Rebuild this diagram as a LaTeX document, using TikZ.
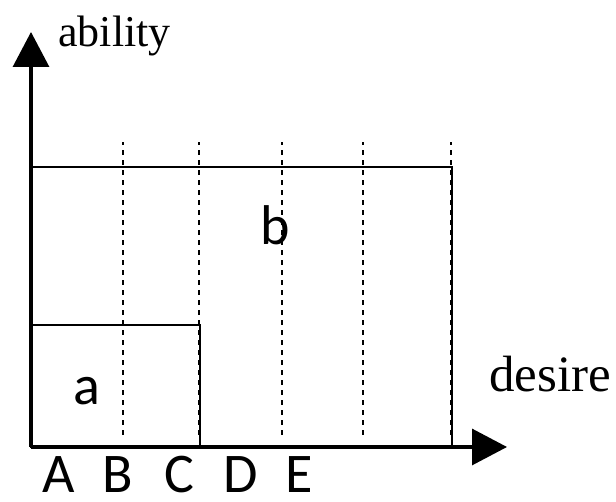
\documentclass[tikz,border=0pt]{standalone}
\usepackage{fontspec}
\setmainfont{Liberation Serif}
\newfontfamily\labelfont{Carlito}
\usepackage{tikz}
\usetikzlibrary{arrows.meta}

\tikzset{
  axisline/.style={line width=1.6pt, -{Triangle[length=17.5pt,width=18pt]}},
  boxline/.style={line width=1.2pt},
  gridline/.style={line width=1.1pt, dash pattern=on 2.5pt off 2.5pt},
  letter/.style={font=\labelfont\fontsize{28}{28}\selectfont, anchor=base, inner sep=0pt},
  axislabel/.style={anchor=base west, inner sep=0pt}
}

\begin{document}
\begin{tikzpicture}[x=0.5pt, y=0.5pt]
        \useasboundingbox (0,0) rectangle (616,502);
        \coordinate (O) at (31,55);
        \coordinate (ytip) at (31,470);
        \coordinate (xtip) at (507,55);
        % dotted divisions
        \foreach \px in {123,199,282,363,451}
          \draw[gridline] (\px,67) -- (\px,360);
        % regions
        \draw[boxline] (O) rectangle (452,335);
        \draw[boxline] (O) rectangle (200,177);
        \node[letter] (lab-a) at (87,97) {a};
        \node[letter] (lab-b) at (275,257) {b};
        % axes
        \draw[axisline] (O) -- (ytip);
        \draw[axisline] (O) -- (xtip);
        \node[axislabel, font=\fontsize{22}{22}\selectfont] (ability) at (58,455) {ability};
        \node[axislabel, font=\fontsize{25.5}{25.5}\selectfont] (desire) at (489,110) {desire};
        % levels
        \foreach \name/\px in {A/59,B/118,C/179,D/241,E/299}
          \node[letter] (lv-\name) at (\px,9) {\name};
      \end{tikzpicture}
\end{document}
